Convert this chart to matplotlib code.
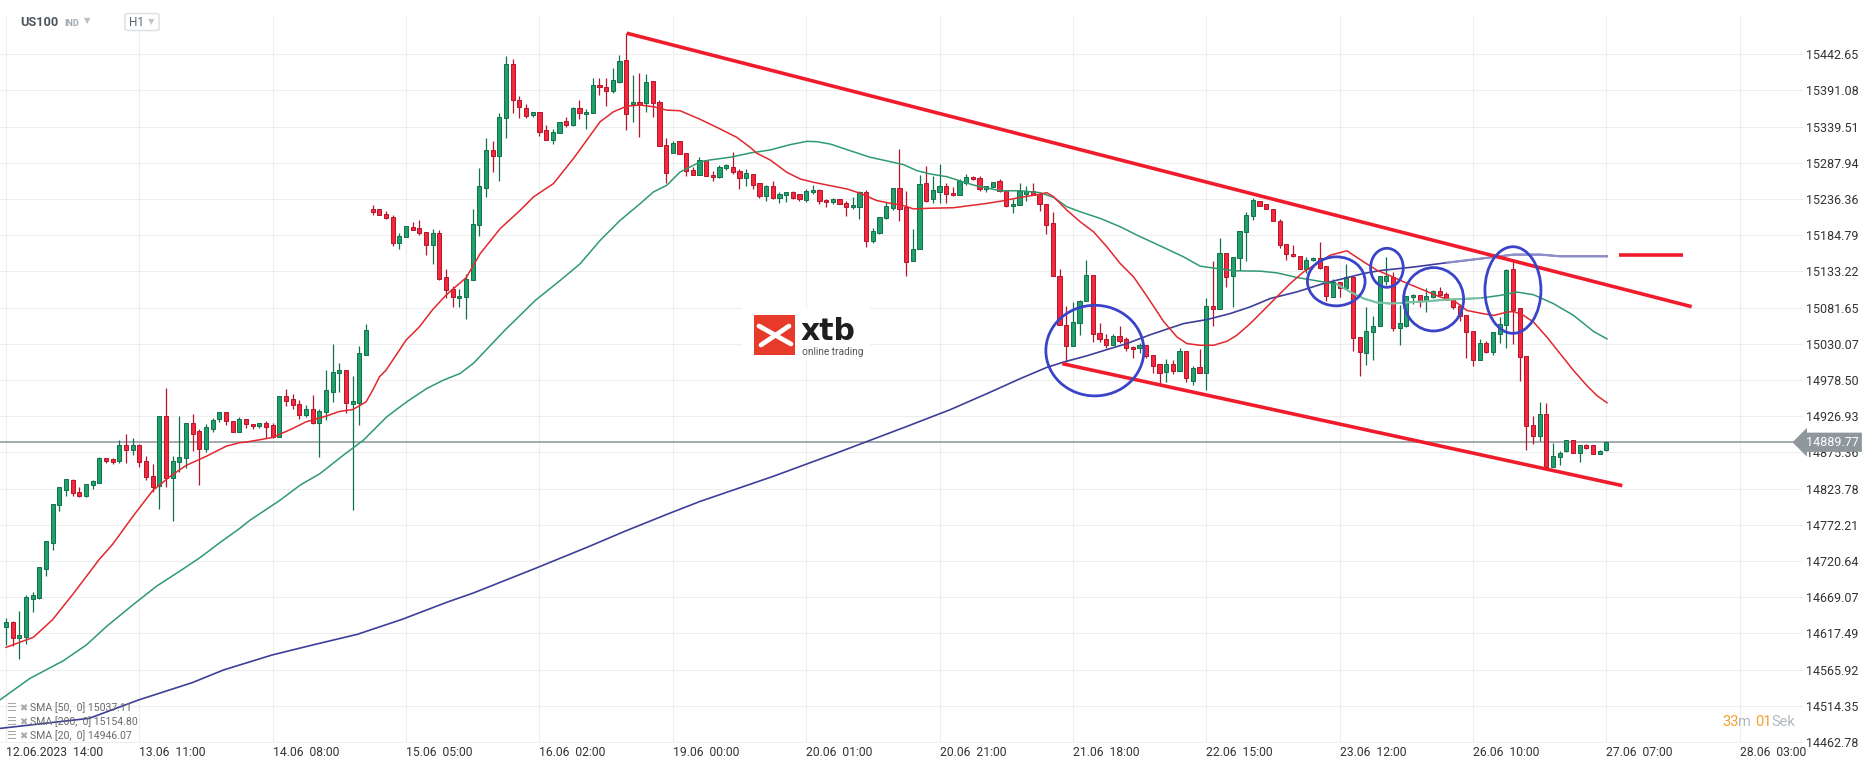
import matplotlib
matplotlib.use("Agg")
import matplotlib.pyplot as plt
from matplotlib.patches import Rectangle, Ellipse, FancyBboxPatch
from matplotlib.lines import Line2D

plt.rcParams['font.family'] = ['Roboto', 'DejaVu Sans']

# hourly US100 candles, 12.06 14:00 .. 27.06 07:00 (one value per bar)
opens = [14626.6, 14633.3, 14610.8, 14612.3, 14665.7, 14668.1, 14709.7, 14746.9, 14800.4, 14821.9,
         14836.7, 14819.5, 14812.8, 14829.0, 14832.4, 14866.8, 14865.3, 14863.4, 14886.3, 14879.2,
         14886.3, 14863.4, 14842.4, 14827.6, 14927.9, 14839.1, 14862.0, 14867.2, 14917.9, 14905.4,
         14880.1, 14909.3, 14923.6, 14932.2, 14919.8, 14904.6, 14923.6, 14916.5, 14913.2, 14917.9,
         14913.7, 14897.5, 14955.0, 14951.2, 14945.0, 14928.9, 14936.5, 14917.5, 14933.6, 14962.1,
         14987.8, 14992.1, 14945.0, 14945.9, 15013.5, 15221.6, 15221.6, 15214.5, 15210.2, 15173.2,
         15181.7, 15196.0, 15194.6, 15188.9, 15170.3, 15187.4, 15124.7, 15108.0, 15094.7, 15096.2,
         15121.2, 15199.8, 15252.6, 15306.9, 15298.4, 15351.2, 15428.8, 15376.9, 15365.5, 15355.5,
         15359.8, 15334.1, 15321.2, 15331.2, 15346.9, 15342.6, 15365.5, 15356.9, 15358.4, 15398.4,
         15395.5, 15389.8, 15402.7, 15434.1, 15371.2, 15374.1, 15372.7, 15404.1, 15374.1, 15314.1,
         15302.6, 15318.4, 15302.6, 15278.4, 15270.7, 15292.1, 15271.2, 15267.4, 15281.1, 15282.1,
         15276.4, 15266.4, 15272.1, 15258.8, 15240.3, 15255.1, 15238.0, 15242.7, 15246.5, 15244.1,
         15234.6, 15246.5, 15249.4, 15235.1, 15232.3, 15236.5, 15230.8, 15225.2, 15225.2, 15246.5,
         15176.8, 15188.1, 15209.0, 15223.7, 15252.2, 15225.2, 15148.3, 15165.4, 15259.8, 15235.9,
         15246.8, 15254.9, 15244.4, 15241.6, 15259.7, 15267.3, 15265.8, 15250.1, 15253.0, 15261.6,
         15248.7, 15225.9, 15227.3, 15243.5, 15247.3, 15243.5, 15228.7, 15201.6, 15127.4, 15057.5,
         15027.0, 15059.9, 15091.7, 15128.8, 15045.6, 15037.5, 15028.9, 15041.8, 15036.5, 15026.1,
         15024.6, 15028.9, 15014.7, 15000.9, 14989.9, 15001.8, 14991.4, 15020.4, 14977.1, 14997.5,
         14989.0, 15083.6, 15080.3, 15158.8, 15126.0, 15151.7, 15188.8, 15211.6, 15233.0, 15228.7,
         15221.6, 15204.5, 15171.6, 15157.4, 15155.9, 15136.0, 15148.8, 15151.7, 15140.3, 15097.4,
         15118.8, 15108.9, 15124.6, 15040.4, 15017.5, 15047.5, 15055.6, 15119.8, 15125.3, 15052.9,
         15055.7, 15096.7, 15099.5, 15091.4, 15097.1, 15105.7, 15101.0, 15093.8, 15084.3, 15071.4,
         15048.6, 15006.6, 15031.4, 15018.1, 15044.3, 15056.7, 15136.7, 15081.4, 15012.4, 14914.3,
         14899.0, 14930.0, 14855.2, 14868.8, 14877.1, 14892.8, 14874.2, 14885.7, 14885.7, 14872.8,
         14878.5]
highs = [14639.5, 14635.7, 14649.0, 14671.9, 14676.7, 14711.6, 14749.3, 14801.8, 14826.7, 14838.1,
         14838.1, 14826.7, 14830.5, 14836.2, 14869.2, 14867.7, 14867.7, 14892.5, 14901.1, 14896.4,
         14887.8, 14869.6, 14859.1, 14927.9, 14966.6, 14870.6, 14927.0, 14917.9, 14929.8, 14909.3,
         14916.4, 14925.0, 14932.2, 14932.2, 14919.8, 14925.1, 14923.6, 14916.5, 14917.9, 14919.8,
         14917.9, 14955.0, 14965.5, 14958.3, 14949.8, 14942.2, 14956.9, 14936.5, 14992.6, 15029.6,
         15002.5, 14992.1, 14984.0, 15026.8, 15058.1, 15228.3, 15221.6, 15218.8, 15213.6, 15187.4,
         15197.4, 15204.1, 15206.4, 15188.9, 15193.6, 15191.7, 15136.6, 15111.8, 15108.0, 15129.0,
         15221.7, 15280.3, 15323.1, 15319.3, 15358.4, 15440.3, 15435.5, 15383.1, 15371.7, 15359.8,
         15359.8, 15341.2, 15336.9, 15345.5, 15352.7, 15366.9, 15377.4, 15364.1, 15408.4, 15408.4,
         15408.4, 15422.7, 15441.7, 15473.6, 15412.6, 15415.5, 15414.1, 15404.1, 15376.9, 15322.7,
         15319.8, 15318.4, 15302.6, 15281.6, 15295.9, 15292.1, 15276.9, 15284.9, 15286.4, 15303.4,
         15278.8, 15279.3, 15272.1, 15258.8, 15256.5, 15262.6, 15247.0, 15246.5, 15248.4, 15244.1,
         15250.8, 15256.5, 15250.8, 15236.5, 15238.4, 15236.5, 15234.2, 15239.9, 15248.4, 15249.4,
         15195.7, 15210.9, 15232.3, 15252.2, 15308.2, 15247.9, 15193.3, 15271.2, 15284.0, 15269.2,
         15286.3, 15258.7, 15253.0, 15264.4, 15271.5, 15269.2, 15269.2, 15254.4, 15260.1, 15264.4,
         15248.7, 15235.9, 15258.7, 15254.9, 15258.7, 15245.4, 15228.7, 15217.3, 15136.0, 15084.6,
         15089.8, 15093.2, 15149.3, 15128.8, 15060.3, 15044.6, 15044.6, 15056.0, 15039.9, 15027.0,
         15031.8, 15028.9, 15014.7, 15000.9, 15008.9, 15007.5, 15024.2, 15020.4, 14998.5, 15022.3,
         15095.5, 15148.3, 15180.2, 15158.8, 15153.1, 15190.2, 15217.3, 15237.3, 15233.0, 15228.7,
         15221.6, 15207.3, 15171.6, 15170.2, 15155.9, 15153.1, 15153.1, 15174.5, 15140.3, 15123.1,
         15118.8, 15143.1, 15127.4, 15040.4, 15083.2, 15070.3, 15126.0, 15153.1, 15132.4, 15085.7,
         15098.1, 15101.4, 15099.5, 15110.0, 15107.2, 15111.4, 15103.3, 15093.8, 15086.7, 15071.4,
         15048.6, 15037.1, 15034.7, 15047.1, 15068.1, 15137.2, 15146.2, 15081.4, 15012.4, 14927.6,
         14947.1, 14946.2, 14888.5, 14876.9, 14892.8, 14892.8, 14885.7, 14887.1, 14885.7, 14878.8,
         14891.4]
lows = [14600.3, 14598.9, 14580.7, 14602.2, 14648.1, 14665.7, 14699.6, 14736.4, 14791.3, 14812.8,
        14813.8, 14811.4, 14811.4, 14822.8, 14831.4, 14860.1, 14858.2, 14860.1, 14860.1, 14871.1,
        14854.4, 14835.3, 14819.5, 14794.2, 14826.7, 14777.9, 14847.2, 14852.9, 14877.3, 14828.6,
        14875.4, 14904.0, 14918.3, 14915.0, 14904.6, 14904.6, 14910.3, 14908.9, 14910.3, 14896.1,
        14896.1, 14897.5, 14941.7, 14937.4, 14923.1, 14925.5, 14916.5, 14869.0, 14921.2, 14947.4,
        14961.7, 14931.7, 14792.9, 14914.6, 15013.5, 15214.0, 15213.1, 15207.4, 15169.8, 15165.6,
        15181.7, 15191.7, 15184.6, 15157.0, 15144.2, 15121.4, 15094.7, 15082.9, 15081.9, 15065.7,
        15121.2, 15183.6, 15239.3, 15275.0, 15262.2, 15323.6, 15358.4, 15351.2, 15351.2, 15352.7,
        15326.9, 15321.2, 15315.0, 15329.8, 15339.3, 15339.8, 15350.7, 15336.9, 15358.4, 15384.6,
        15368.4, 15386.9, 15401.2, 15334.1, 15345.5, 15324.1, 15360.3, 15352.7, 15312.6, 15259.8,
        15302.6, 15301.2, 15269.8, 15271.2, 15270.7, 15269.3, 15261.7, 15266.4, 15278.3, 15272.1,
        15251.2, 15255.0, 15250.8, 15237.9, 15233.2, 15236.5, 15230.4, 15231.8, 15236.1, 15234.2,
        15231.8, 15243.6, 15229.9, 15224.7, 15229.9, 15229.4, 15211.9, 15222.3, 15207.6, 15167.7,
        15173.9, 15186.2, 15207.6, 15220.9, 15204.8, 15126.5, 15148.3, 15165.4, 15231.8, 15230.2,
        15230.2, 15230.2, 15240.6, 15241.6, 15256.3, 15263.5, 15248.2, 15245.9, 15253.0, 15246.8,
        15224.4, 15215.9, 15227.3, 15233.0, 15241.6, 15219.7, 15186.4, 15127.4, 15056.5, 15004.2,
        15027.0, 15042.3, 15091.7, 15032.7, 15032.7, 15024.2, 15028.9, 15031.8, 15019.9, 15010.4,
        15017.5, 15010.4, 14988.5, 14973.3, 14975.6, 14986.6, 14991.4, 14975.6, 14970.9, 14989.0,
        14964.7, 15055.6, 15080.3, 15111.2, 15082.7, 15135.0, 15147.9, 15206.4, 15226.8, 15221.6,
        15204.5, 15166.9, 15150.2, 15153.1, 15136.0, 15130.3, 15147.4, 15136.0, 15091.7, 15097.4,
        15097.4, 15108.9, 15019.9, 14984.2, 15000.4, 15007.5, 15055.6, 15113.6, 15048.1, 15029.0,
        15053.8, 15087.2, 15082.4, 15075.2, 15095.7, 15098.6, 15091.9, 15079.5, 15062.4, 15009.5,
        14998.6, 15006.6, 15017.1, 15013.8, 15030.9, 15023.8, 15029.5, 14977.1, 14878.5, 14887.1,
        14891.9, 14853.8, 14855.2, 14857.4, 14876.6, 14874.2, 14862.3, 14880.0, 14872.8, 14872.8,
        14877.6]
closes = [14633.3, 14610.8, 14614.6, 14669.1, 14671.9, 14711.6, 14749.3, 14801.8, 14826.7, 14838.1,
          14817.6, 14812.8, 14830.5, 14834.8, 14866.8, 14863.4, 14862.0, 14886.3, 14879.2, 14886.3,
          14862.0, 14840.5, 14825.7, 14927.9, 14839.5, 14863.4, 14869.2, 14917.9, 14902.1, 14880.6,
          14912.1, 14922.2, 14932.2, 14919.8, 14904.6, 14923.6, 14916.5, 14913.2, 14917.9, 14911.7,
          14897.5, 14955.0, 14948.8, 14943.1, 14928.9, 14936.5, 14917.5, 14935.0, 14963.6, 14989.2,
          14992.1, 14945.9, 14948.4, 15016.3, 15049.1, 15218.3, 15213.1, 15208.8, 15173.2, 15183.1,
          15197.4, 15191.7, 15187.4, 15170.3, 15187.4, 15122.8, 15106.1, 15096.2, 15098.1, 15122.3,
          15201.2, 15255.5, 15306.9, 15298.4, 15352.7, 15428.8, 15376.9, 15366.9, 15354.1, 15359.8,
          15332.6, 15321.2, 15332.6, 15345.5, 15342.6, 15365.5, 15358.4, 15359.8, 15398.4, 15395.5,
          15389.8, 15405.5, 15432.7, 15356.9, 15374.1, 15371.2, 15402.7, 15372.7, 15312.6, 15274.1,
          15316.9, 15301.2, 15276.9, 15271.2, 15292.1, 15269.3, 15267.4, 15282.1, 15284.5, 15274.5,
          15266.4, 15273.6, 15256.5, 15240.3, 15255.5, 15237.5, 15244.1, 15246.5, 15238.0, 15236.1,
          15248.4, 15249.4, 15233.7, 15232.3, 15236.5, 15229.4, 15225.2, 15228.0, 15246.5, 15176.8,
          15191.4, 15210.9, 15227.0, 15252.2, 15222.3, 15146.4, 15165.4, 15258.4, 15234.2, 15249.2,
          15254.9, 15243.5, 15241.6, 15261.6, 15267.3, 15264.4, 15250.1, 15254.4, 15260.1, 15248.2,
          15225.9, 15229.2, 15247.3, 15247.3, 15241.6, 15228.7, 15198.8, 15127.4, 15056.5, 15027.0,
          15061.8, 15091.7, 15128.8, 15044.6, 15037.5, 15028.9, 15041.8, 15034.6, 15024.2, 15023.2,
          15028.9, 15012.8, 14998.5, 14989.0, 15001.8, 14991.4, 15020.4, 14981.4, 14996.1, 14989.0,
          15083.6, 15080.3, 15158.8, 15124.6, 15153.1, 15190.2, 15213.0, 15234.4, 15226.8, 15221.6,
          15204.5, 15170.2, 15157.4, 15154.5, 15136.0, 15150.2, 15151.7, 15138.8, 15098.9, 15118.8,
          15108.9, 15124.6, 15038.9, 15018.9, 15048.9, 15055.6, 15126.0, 15126.0, 15052.4, 15060.0,
          15098.1, 15100.0, 15091.4, 15098.1, 15105.2, 15099.5, 15092.9, 15082.4, 15070.0, 15047.6,
          15006.6, 15031.4, 15018.6, 15047.1, 15058.6, 15135.7, 15078.1, 15011.4, 14912.8, 14899.0,
          14930.0, 14855.2, 14870.9, 14874.5, 14892.8, 14874.2, 14885.7, 14882.3, 14872.8, 14877.4,
          14889.77]

# moving averages (bar index, value)
sma20_idx = [0, 4.1, 7, 10, 14, 16, 19, 22, 24.6, 27, 30, 33, 35, 36, 40, 43, 45, 48, 50, 52,
             53, 54, 55, 56, 57, 58, 60, 62, 64, 66, 68, 69, 71.1, 74.1, 77.1, 79.1, 82.1, 85.1,
             87.1, 89.1, 91.1, 93.1, 95.1, 97.1, 99.1, 101.1, 104.1, 106.6, 109.6, 111.6, 112.6,
             114.6, 117.1, 119.1, 121.1, 123.6, 126.1, 128.1, 130.6, 132.6, 134.6, 136.1, 138.6,
             142.1, 147.1, 149.6, 152.1, 154.6, 156.1, 157.1, 159.1, 161.1, 163.1, 165.1, 167.1,
             169.1, 171.1, 173.6, 175.6, 177.1, 179.1, 181.1, 183.1, 184.6, 186.6, 188.6, 190.6,
             192.6, 194.6, 196.6, 198.6, 201.1, 203.6, 205.6, 207.6, 209.1, 212.1, 215.1, 217.1,
             219.1, 221.1, 223.1, 225.1, 226.1, 227.6, 229.1, 231.1, 233.1, 235.1, 237.1, 238.6, 240.1]
sma20_val = [14597.5, 14611.8, 14637.1, 14672.9, 14723.0, 14744.5, 14783.7, 14820.9, 14841.0, 14856.7,
             14869.6, 14884.0, 14889.2, 14890.0, 14896.6, 14909.4, 14918.9, 14927.0, 14933.6, 14936.5,
             14941.7, 14947.4, 14964.0, 14983.0, 14992.6, 15006.8, 15035.3, 15054.3, 15079.0, 15099.5,
             15116.1, 15124.2, 15158.4, 15194.1, 15220.3, 15239.3, 15258.4, 15294.1, 15320.3, 15346.5,
             15360.7, 15368.8, 15370.3, 15367.9, 15363.1, 15362.2, 15350.0, 15338.6, 15324.3, 15310.1,
             15301.6, 15292.1, 15274.5, 15265.0, 15260.3, 15255.5, 15250.8, 15244.6, 15234.2, 15230.4,
             15227.1, 15222.3, 15223.3, 15224.0, 15230.2, 15234.0, 15238.7, 15242.5, 15245.4, 15239.7,
             15220.6, 15204.0, 15189.7, 15168.3, 15144.5, 15125.5, 15098.0, 15062.0, 15039.9, 15030.4,
             15028.0, 15028.0, 15033.7, 15042.3, 15058.9, 15077.9, 15097.0, 15116.0, 15132.6, 15144.5,
             15156.4, 15162.6, 15146.9, 15135.0, 15127.0, 15120.5, 15108.6, 15096.7, 15091.9, 15077.6,
             15073.8, 15070.5, 15075.2, 15076.2, 15070.5, 15061.0, 15039.5, 15015.7, 14991.9, 14970.4,
             14956.2, 14946.1]
sma50_idx = [-0.9, 3.6, 8.6, 12.1, 15.1, 19.1, 22.6, 26.1, 29.1, 32.1, 35.1, 36.6, 41.1, 44.1, 47.1,
             50.6, 53.6, 55.1, 57.1, 60.1, 63.1, 65.6, 68.1, 70.1, 74.8, 79.4, 83.1, 86.1, 89.1, 92.1,
             95.1, 97.1, 99.1, 101.1, 104.1, 105.6, 108.6, 111.6, 114.6, 117.6, 120.1, 121.6, 123.6,
             126.6, 129.6, 132.6, 134.6, 136.6, 138.6, 141.1, 145.1, 149.1, 152.1, 155.1, 157.1, 159.1,
             161.1, 164.1, 167.1, 169.6, 172.1, 173.6, 176.6, 179.1, 181.6, 184.6, 188.1, 190.6, 193.6,
             196.6, 199.6, 201.6, 203.6, 205.6, 207.6, 211.1, 216.1, 221.1, 224.1, 226.6, 229.1, 232.1,
             235.1, 238.1, 240.1]
sma50_val = [14522.7, 14553.3, 14578.4, 14601.3, 14627.5, 14658.6, 14684.8, 14706.3, 14725.4, 14746.9,
             14767.4, 14778.7, 14807.2, 14828.6, 14845.2, 14871.4, 14892.7, 14907.0, 14926.0, 14947.4,
             14966.4, 14978.3, 14987.8, 15002.3, 15049.3, 15092.1, 15120.3, 15144.1, 15177.4, 15206.0,
             15229.8, 15246.5, 15256.0, 15275.0, 15289.3, 15292.1, 15295.9, 15302.0, 15306.3, 15313.9,
             15318.6, 15318.1, 15314.8, 15305.3, 15295.9, 15289.7, 15285.4, 15276.9, 15272.1, 15268.2,
             15256.3, 15248.2, 15248.2, 15245.4, 15238.7, 15225.4, 15218.3, 15208.8, 15196.9, 15185.0,
             15174.0, 15167.4, 15154.0, 15140.7, 15137.4, 15134.1, 15133.6, 15131.2, 15124.6, 15119.8,
             15115.0, 15104.1, 15094.6, 15088.9, 15087.4, 15089.5, 15092.9, 15095.2, 15099.1, 15103.8,
             15100.0, 15087.2, 15070.5, 15047.6, 15037.1]
sma200_idx = [-0.9, 12.5, 19.9, 27.9, 32.6, 39.9, 46.0, 52.7, 59.4, 66.1, 70.1, 79.4, 87.5, 92.9,
              99.5, 104.1, 115, 125, 135, 141.6, 147.1, 152.1, 156.1, 158.6, 162.1, 165.1, 168.1,
              171.6, 176.6, 180.1, 183.6, 186.6, 189.6, 193.6, 197.6, 200.6, 203.6, 206.1, 211.1,
              216.1, 221.1, 226.1, 230.1, 233.1, 240.1]
sma200_val = [14482.0, 14496.4, 14522.6, 14547.1, 14565.2, 14586.6, 14600.9, 14616.1, 14637.4, 14661.7,
              14675.0, 14710.1, 14741.5, 14763.3, 14788.5, 14805.5, 14841.0, 14876.0, 14912.0, 14936.2,
              14959.0, 14980.4, 14996.5, 15004.0, 15013.0, 15021.8, 15030.4, 15043.0, 15058.9, 15064.6,
              15073.2, 15082.7, 15094.6, 15104.1, 15116.0, 15123.1, 15130.3, 15134.5, 15139.5, 15145.7,
              15151.4, 15157.2, 15157.2, 15154.8, 15154.8]

# drawn channel lines and circles (bar index, price)
upper_line = [(93.1, 15472.7), (252.8, 15083.0)]
lower_line = [(158.4, 15001.8), (242.4, 14828.0)]
level_line = [(241.9, 15157.0), (251.5, 15157.0)]
circle_x = [163.3, 199.5, 207.1, 214.1, 226.0]
circle_y = [15020.4, 15119.1, 15138.4, 15093.5, 15106.7]
circle_w = [14.7, 8.65, 4.9, 9.0, 8.4]
circle_h = [129.1, 69.8, 55.6, 90.3, 123.4]

price_ticks = [14462.78, 14514.35, 14565.92, 14617.49, 14669.07, 14720.64, 14772.21, 14823.78,
               14875.36, 14926.93, 14978.50, 15030.07, 15081.65, 15133.22, 15184.79, 15236.36,
               15287.94, 15339.51, 15391.08, 15442.65]
date_ticks = list(range(0, 261, 20))
date_labels = ['12.06.2023  14:00', '13.06  11:00', '14.06  08:00', '15.06  05:00', '16.06  02:00',
               '19.06  00:00', '20.06  01:00', '20.06  21:00', '21.06  18:00', '22.06  15:00',
               '23.06  12:00', '26.06  10:00', '27.06  07:00', '28.06  03:00']
last_price = 14889.77
legend_rows = ['SMA [50,  0] 15037.11', 'SMA [200,  0] 15154.80', 'SMA [20,  0] 14946.07']

W, H = 1866, 767
fig = plt.figure(figsize=(W / 100, H / 100), dpi=100)
fig.patch.set_facecolor('white')
ax = fig.add_axes([0, 24 / H, 1803 / W, 726 / H])
ax.set_xlim(-0.9, 269.5)
ax.set_ylim(14461.2, 15495.8)
for s in ax.spines.values():
    s.set_visible(False)


def fx(x):
    return x / W


def fy(y):
    return 1 - y / H


# grid and ticks
ax.set_yticks(price_ticks)
ax.set_yticklabels(['%.2f' % v for v in price_ticks])
ax.yaxis.tick_right()
ax.tick_params(axis='y', length=0, pad=2.5, labelsize=9, labelcolor='#333333')
ax.set_xticks(date_ticks)
ax.set_xticklabels(date_labels, ha='left')
ax.tick_params(axis='x', length=0, pad=2, labelsize=8.7, labelcolor='#333333')
ax.grid(True, color='#eeeeee', lw=0.8, zorder=0)
ax.set_axisbelow(True)

# candles
idx = list(range(len(opens)))
up = [c >= o for o, c in zip(opens, closes)]
fills = ['#21a06c' if u else '#f3283d' for u in up]
edges = ['#11714a' if u else '#b4162b' for u in up]
bottoms = [min(o, c) for o, c in zip(opens, closes)]
heights = [max(abs(c - o), 1.0) for o, c in zip(opens, closes)]
ax.vlines(idx, lows, highs, colors=edges, lw=0.9, zorder=3)
ax.bar(idx, heights, bottom=bottoms, width=0.62, color=fills, edgecolor=edges,
       linewidth=0.7, zorder=3.1)

# current price line
ax.axhline(last_price, color='#8b9499', lw=1.1, zorder=2)

# moving averages (last stretch of the 200 and part of the 50 are drawn paler)
ax.plot(sma200_idx, sma200_val, color='#3e3f98', lw=1.2, zorder=4)
pale200 = [k for k, v in enumerate(sma200_idx) if v >= 216]
ax.plot([sma200_idx[k] for k in pale200], [sma200_val[k] for k in pale200],
        color='#8c8dc9', lw=1.6, zorder=4.1)
ax.plot(sma50_idx, sma50_val, color='#2f9a70', lw=1.1, zorder=4)
pale50 = [k for k, v in enumerate(sma50_idx) if 199 <= v <= 222]
ax.plot([sma50_idx[k] for k in pale50], [sma50_val[k] for k in pale50],
        color='#7cc3a6', lw=1.5, zorder=4.1)
ax.plot(sma20_idx, sma20_val, color='#e2272e', lw=1.1, zorder=4)

# channel
for seg in (upper_line, lower_line, level_line):
    ax.plot([p[0] for p in seg], [p[1] for p in seg], color='#f01c2c', lw=2.6,
            solid_capstyle='butt', zorder=5, clip_on=False)
for cx, cy, cw, ch in zip(circle_x, circle_y, circle_w, circle_h):
    ax.add_patch(Ellipse((cx, cy), cw, ch, fill=False, ec='#3a44c9', lw=2.0, zorder=6))

# price tag
ax.text(1.0, last_price, ' %.2f' % last_price, transform=ax.get_yaxis_transform(),
        ha='left', va='center', fontsize=9, color='white', zorder=10, clip_on=False,
        bbox=dict(boxstyle='larrow,pad=0.25', fc='#8d979c', ec='none'))

# countdown
t1 = fig.text(fx(1722), fy(722), '33', color='#f5a12e', fontsize=10.5, va='center')
t2 = ax.annotate('m ', xy=(1, 0), xycoords=t1, va='bottom', color='#b3b8bc', fontsize=10.5)
t3 = ax.annotate('01', xy=(1, 0), xycoords=t2, va='bottom', color='#f5a12e', fontsize=10.5)
ax.annotate('Sek', xy=(1, 0), xycoords=t3, va='bottom', color='#b3b8bc', fontsize=10.5)

# symbol header
fig.text(fx(20), fy(23), 'US100', fontsize=9.2, fontweight='bold', color='#4d555c', va='center')
fig.text(fx(64), fy(23.5), 'IND', fontsize=6.5, fontweight='bold', color='#9ea8b0', va='center')
fig.text(fx(84), fy(21), '\u25bc', fontsize=6, color='#b9c0c6', va='center',
         family=['DejaVu Sans'])
fig.add_artist(FancyBboxPatch((fx(125), fy(30.5)), fx(34), 17 / H,
                              boxstyle='round,pad=0,rounding_size=0.002',
                              transform=fig.transFigure, fc='white', ec='#dadfe3', lw=1))
fig.text(fx(129.5), fy(23), 'H1', fontsize=8.5, color='#5b636a', va='center')
fig.text(fx(148), fy(21.5), '\u25bc', fontsize=6, color='#c2c8cd', va='center',
         family=['DejaVu Sans'])

# legend rows
for k, row in enumerate(legend_rows):
    yy = fy(708 + 14 * k)
    fig.text(fx(6), yy, '\u2630', fontsize=8, color='#a8a8a8', va='center',
             family=['DejaVu Sans'])
    fig.text(fx(19.5), yy, '\u2716', fontsize=7, color='#a8a8a8', va='center',
             family=['DejaVu Sans'])
    fig.text(fx(30.5), yy, row, fontsize=7.6, color='#6a6a6a', va='center')

# logo
fig.add_artist(Rectangle((fx(742), fy(360)), fx(128), 52 / H, transform=fig.transFigure,
                         fc='white', ec='none', zorder=7))
fig.add_artist(Rectangle((fx(754), fy(355.5)), fx(40.5), 40.5 / H, transform=fig.transFigure,
                         fc='#e83a2b', ec='none', zorder=8))
fig.add_artist(Line2D([fx(759), fx(791)], [fy(326), fy(344)], transform=fig.transFigure,
                      color='white', lw=3.4, solid_capstyle='round', zorder=9))
fig.add_artist(Line2D([fx(761), fx(789)], [fy(345), fy(326)], transform=fig.transFigure,
                      color='white', lw=3.4, solid_capstyle='round', zorder=9))
t = fig.text(fx(800.5), fy(345.5), 'xtb', fontsize=21.5, fontweight='bold', color='#1f1f1f',
             ha='left', va='bottom', family=['DejaVu Sans'])
t.set_zorder(9)
t = fig.text(fx(801.5), fy(351.5), 'online trading', fontsize=7.3, color='#555555', va='center')
t.set_zorder(9)

fig.savefig('out.png', dpi=100, facecolor='white')
